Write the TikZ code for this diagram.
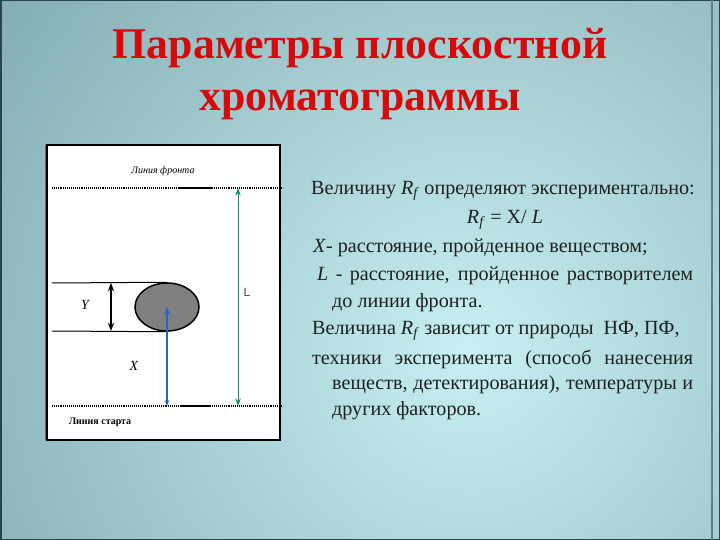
\documentclass[tikz,border=0pt]{standalone}
\usepackage{fontspec}
\setmainfont{Liberation Serif}
\newfontfamily\arialfont{Liberation Sans}
\usetikzlibrary{arrows.meta,shapes.geometric}

\definecolor{titlered}{RGB}{214,10,10}
\definecolor{bgcenter}{RGB}{200,240,242}
\definecolor{bgedge}{RGB}{88,132,142}
\definecolor{frameedge}{RGB}{40,68,76}
\definecolor{xblue}{RGB}{40,100,200}
\definecolor{lgreen}{RGB}{20,140,110}
\definecolor{spotgray}{RGB}{128,128,128}

\newcommand{\Rf}{\textit{R}\textsubscript{\textit{f}}}

\begin{document}
\begin{tikzpicture}[x=1bp, y=-1bp, >=Stealth,
        dotline/.style={line width=2.4bp, dash pattern=on 1.1bp off 1bp},
        solidpart/.style={line width=2.6bp},
        txt/.style={anchor=west, inner sep=0pt, font=\fontsize{20.2}{24}\selectfont, text=black!88}]
    \useasboundingbox (0,0) rectangle (720,540);

    % 背景
    \begin{scope}
        \clip (0,0) rectangle (720,540);
        \shade[inner color=bgcenter, outer color=bgedge] (470,350) circle (950);
    \end{scope}
    \draw[frameedge, line width=3bp] (0,0) rectangle (720,540);
    \draw[frameedge!70, line width=1.2bp] (712,0) -- (712,540);

    % 标题
    \node[font=\fontsize{44}{52}\bfseries\selectfont, text=titlered, align=center] (title) at (360,74) {Параметры плоскостной\\хроматограммы};

    % 色谱板
    \draw[fill=white, line width=1.5bp] (47,145) rectangle (280,440);
    \draw[black!60, line width=1.5bp] (45.5,145) -- (45.5,440);
    \node[font=\fontsize{10}{12}\itshape\selectfont] (front) at (163,171) {Линия фронта};
    \node[font=\fontsize{10}{12}\bfseries\selectfont] (start) at (100,422) {Линия старта};

    % 前沿线和起始线
    \coordinate (fl) at (52,188);  \coordinate (fr) at (283,188);
    \coordinate (fa) at (179,188); \coordinate (fb) at (213,188);
    \coordinate (sl) at (52,406);  \coordinate (sr) at (283,406);
    \coordinate (sa) at (180,406); \coordinate (sb) at (210,406);
    \draw[dotline] (fl) -- (fr);
    \draw[solidpart] (fa) -- (fb);
    \draw[dotline] (sl) -- (sr);
    \draw[solidpart] (sa) -- (sb);

    % 斑点
    \coordinate (ya) at (52,283);
    \coordinate (yb) at (52,331);
    \node[ellipse, draw, line width=1.5bp, fill=spotgray, minimum width=64bp, minimum height=48bp, inner sep=0pt] (spot) at (167,307) {};
    \draw[line width=1bp] (ya) -- (spot.north);
    \draw[line width=1bp] (yb) -- (spot.south);
    \coordinate (yt) at (111,283);
    \coordinate (yd) at (111,331);
    \draw[<->, line width=1.2bp] (yt) -- (yd);
    \node[font=\fontsize{14}{16}\itshape\selectfont] (ylab) at (85,305) {Y};

    % X 和 L
    \coordinate (xs) at (167,406);
    \draw[{Stealth[length=6bp]}-{Stealth[length=8bp]}, xblue, line width=1.6bp] (xs) -- (spot.center);
    \node[font=\fontsize{14}{16}\itshape\selectfont] (xlab) at (134,366) {X};
    \coordinate (lt) at (238,188);
    \coordinate (lb) at (238,406);
    \draw[<->, lgreen, line width=1bp] (lt) -- (lb);
    \node[font=\arialfont\fontsize{12}{14}\selectfont, text=black!75] (llab) at (247,292) {L};

    % 说明文字
    \node[txt] (t1) at (311,191) {Величину \Rf{} определяют экспериментально:};
    \node[txt, anchor=center] (t2) at (505,220) {\Rf{} = X/ \textit{L}};
    \node[txt] (t3) at (313,248) {\textit{X}- расстояние, пройденное веществом;};
    \node[txt] (t4) at (317,276) {\makebox[376bp][s]{\textit{L} - расстояние, пройденное растворителем}};
    \node[txt] (t5) at (332,303) {до линии фронта.};
    \node[txt] (t6) at (312,331) {Величина \Rf{} зависит от природы~ НФ, ПФ,};
    \node[txt] (t7) at (312,359) {\makebox[381bp][s]{техники эксперимента (способ нанесения}};
    \node[txt] (t8) at (332,385) {\makebox[361bp][s]{веществ, детектирования), температуры и}};
    \node[txt] (t9) at (332,411) {других факторов.};
\end{tikzpicture}
\end{document}
